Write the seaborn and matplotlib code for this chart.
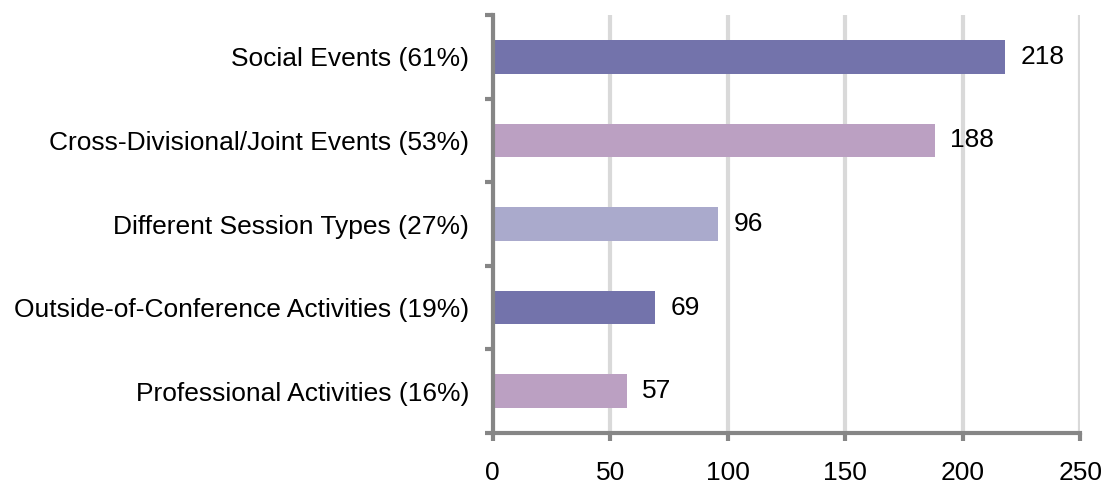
import matplotlib
matplotlib.use("Agg")
import matplotlib.pyplot as plt
import seaborn as sns
import pandas as pd
import numpy as np

categories = ["Social Events (61%)", "Cross-Divisional/Joint Events (53%)",
              "Different Session Types (27%)", "Outside-of-Conference Activities (19%)",
              "Professional Activities (16%)"]
values = [218, 188, 96, 69, 57]
colors = ["#7373AB", "#BBA0C2", "#AAAACC", "#7373AB", "#BBA0C2"]
xticks = [0, 50, 100, 150, 200, 250]

sns.set_theme(style="white")
plt.rcParams['font.family'] = ['Liberation Sans', 'DejaVu Sans']

df = pd.DataFrame({"cat": categories, "val": values})
fig = plt.figure(figsize=(11.07, 4.87), dpi=100)
ax = fig.add_axes([0.445, 0.111, 0.531, 0.858])
sns.barplot(data=df, y="cat", x="val", hue="cat", palette=colors, legend=False,
            orient="h", width=0.4, ax=ax, saturation=1, linewidth=0)

ax.set_xlim(0, 250)
ax.set_ylim(4.5, -0.5)
ax.set_xticks(xticks)
ax.set_xticklabels([str(t) for t in xticks], fontsize=19, color='black')
ax.tick_params(axis='x', pad=14, length=6, width=3, color="#868686", direction='out', bottom=True)
ax.tick_params(axis='y', which='major', length=0, pad=17, labelsize=19, labelcolor='black')
ax.set_yticks(np.arange(-0.5, 5, 1), minor=True)
ax.tick_params(axis='y', which='minor', length=6, width=3, color="#868686", direction='out', left=True)
ax.set_xlabel("")
ax.set_ylabel("")
ax.grid(axis='x', color="#D9D9D9", linewidth=3)
ax.set_axisbelow(True)
for s in ["top", "right"]:
    ax.spines[s].set_visible(False)
for s in ["left", "bottom"]:
    ax.spines[s].set_color("#868686")
    ax.spines[s].set_linewidth(3)

for i, v in enumerate(values):
    ax.text(v + 6.5, i, str(v), va='center', ha='left', fontsize=19, color='black')

fig.savefig("out.png", dpi=100)
